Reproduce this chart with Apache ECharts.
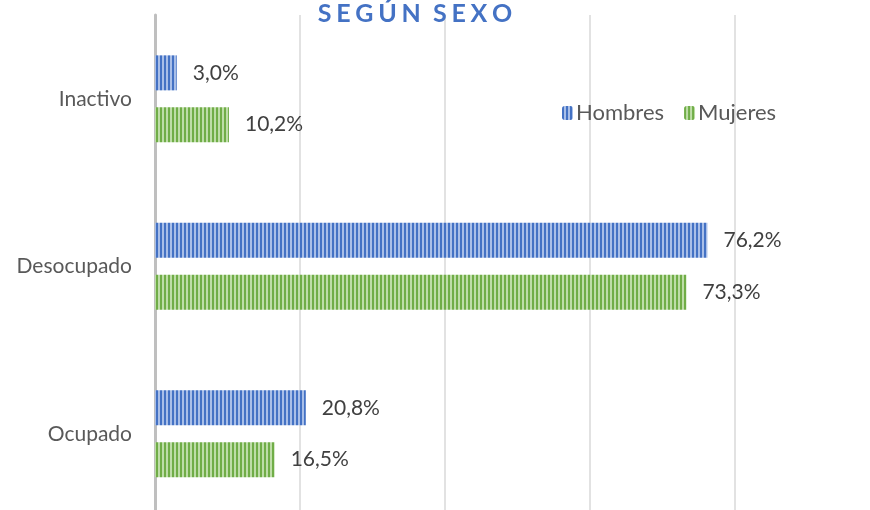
<!DOCTYPE html>
<html>
<head>
<meta charset="utf-8">
<script src="https://cdn.jsdelivr.net/npm/echarts@6/dist/echarts.min.js"></script>
<style>
  html, body { margin: 0; padding: 0; background: #fff; }
  #main { width: 870px; height: 510px; }
</style>
</head>
<body>
<div id="main"></div>
<script>
var categories = ['Ocupado', 'Desocupado', 'Inactivo'];
var hombres = [20.8, 76.2, 3.0];
var mujeres = [16.5, 73.3, 10.2];
var seriesNames = ['Hombres', 'Mujeres'];

// vertical stripe fill like the Office pattern
function stripes(dark, light) {
  var c = document.createElement('canvas');
  c.width = 4;
  c.height = 4;
  var ctx = c.getContext('2d');
  ctx.fillStyle = light;
  ctx.fillRect(0, 0, 4, 4);
  ctx.fillStyle = dark;
  ctx.fillRect(0, 0, 2, 4);
  return { image: c, repeat: 'repeat' };
}

// wide letter spacing for the title
function spaced(s) {
  return s.split(' ').map(function (w) {
    return w.split('').join('\u2009\u200A');
  }).join('\u2009 \u2009');
}

var chart = echarts.init(document.getElementById('main'));
var font = 'Lato, "Open Sans", sans-serif';
var labelStyle = {
  show: true,
  position: 'right',
  distance: 16,
  fontSize: 21,
  fontFamily: font,
  color: '#404040',
  formatter: function (p) {
    return p.value.toFixed(1).replace('.', ',') + '%';
  }
};

var option = {
  animation: false,
  title: {
    text: spaced('SEGÚN SEXO'),
    left: 410,
    textAlign: 'center',
    top: -4,
    textStyle: {
      color: '#4472C4',
      fontSize: 25,
      fontWeight: 'bold',
      fontFamily: font
    }
  },
  legend: {
    left: 557,
    top: 97,
    itemWidth: 11,
    itemHeight: 14,
    itemGap: 20,
    itemStyle: { borderWidth: 0 },
    textStyle: { fontSize: 22, fontFamily: font, color: '#595959', padding: [0, 0, 0, -2] },
    data: seriesNames
  },
  grid: {
    left: 155,
    right: 135,
    top: 15,
    bottom: -7.5,
    outerBoundsMode: 'none'
  },
  xAxis: {
    type: 'value',
    min: 0,
    max: 80,
    interval: 20,
    axisLabel: { show: false },
    axisLine: { show: false },
    axisTick: { show: false },
    splitLine: { lineStyle: { color: '#D9D9D9', width: 1.5 } }
  },
  yAxis: {
    type: 'category',
    data: categories,
    axisTick: { show: false },
    axisLine: { lineStyle: { color: '#BFBFBF', width: 3 } },
    axisLabel: {
      margin: 23,
      fontSize: 21,
      fontFamily: font,
      color: '#595959'
    }
  },
  series: [{
    name: seriesNames[0],
    type: 'bar',
    data: hombres,
    barWidth: 35,
    barGap: '48%',
    itemStyle: {
      color: stripes('#4472C4', '#A9BFE8')
    },
    label: labelStyle
  }, {
    name: seriesNames[1],
    type: 'bar',
    data: mujeres,
    barWidth: 35,
    itemStyle: {
      color: stripes('#70AD47', '#BEDDA8')
    },
    label: labelStyle
  }]
};
chart.setOption(option);
</script>
</body>
</html>
